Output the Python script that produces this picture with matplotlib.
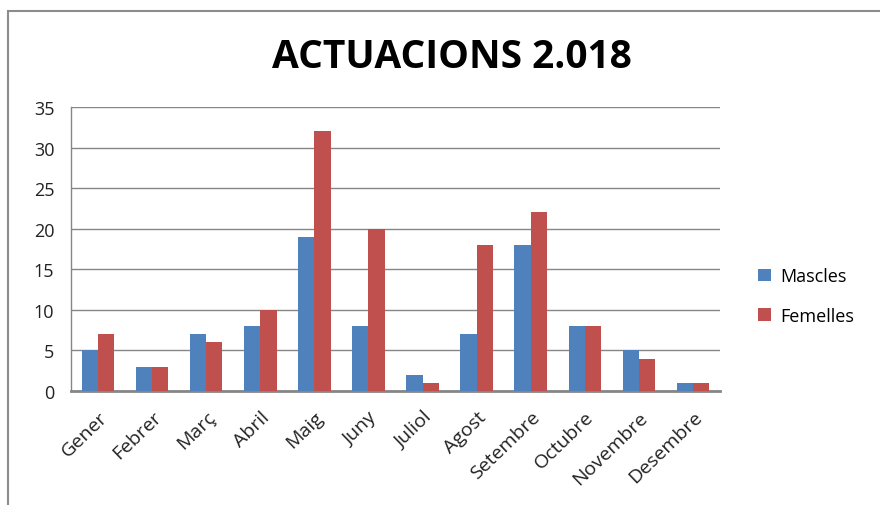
import matplotlib
matplotlib.use("Agg")
import matplotlib.pyplot as plt
from matplotlib.patches import Rectangle
from matplotlib import font_manager
import numpy as np

months = ["Gener", "Febrer", "Març", "Abril", "Maig", "Juny", "Juliol",
          "Agost", "Setembre", "Octubre", "Novembre", "Desembre"]
mascles = [5, 3, 7, 8, 19, 8, 2, 7, 18, 8, 5, 1]
femelles = [7, 3, 6, 10, 32, 20, 1, 18, 22, 8, 4, 1]
yticks = [0, 5, 10, 15, 20, 25, 30, 35]

names = {f.name for f in font_manager.fontManager.ttflist}
narrow = "Liberation Sans Narrow" if "Liberation Sans Narrow" in names else "Open Sans"
plt.rcParams['font.family'] = ["Open Sans", "DejaVu Sans"]

W, H = 880, 506
fig = plt.figure(figsize=(W / 100, H / 100), dpi=100)
fig.patch.set_facecolor("white")

# outer chart border
fig.add_artist(Rectangle((8 / W, -0.1), 1.2, 1.1 - 12 / H, transform=fig.transFigure,
                         fill=False, edgecolor="#8c8c8c", linewidth=1.5))

ax = fig.add_axes([71 / W, 1 - 392 / H, (720 - 71) / W, (392 - 108) / H])
x = np.arange(len(months))
bw = 0.3
ax.bar(x - bw / 2, mascles, bw, color="#4F81BD", label="Mascles", zorder=3)
ax.bar(x + bw / 2, femelles, bw, color="#C0504D", label="Femelles", zorder=3)

ax.set_xlim(-0.5, len(months) - 0.5)
ax.set_ylim(0, 35)
ax.set_yticks(yticks)
ax.set_yticklabels([str(v) for v in yticks], fontsize=13, color="#222222")
ax.yaxis.grid(True, color="#868686", linewidth=1.0, zorder=0)
ax.tick_params(axis="y", length=0, pad=12)
ax.tick_params(axis="x", length=0, pad=12)
ax.set_xticks(x)
ax.set_xticklabels(months, rotation=44, ha="right", rotation_mode="anchor",
                   fontsize=14, color="#222222")
for s in ["top", "right"]:
    ax.spines[s].set_visible(False)
ax.spines["left"].set_color("#868686")
ax.spines["bottom"].set_color("#868686")
ax.spines["bottom"].set_linewidth(2)
ax.spines["left"].set_linewidth(1)

fig.text(452 / W, 1 - 57 / H, "ACTUACIONS 2.018", ha="center", va="center",
         fontsize=28, fontweight="bold", family=[narrow, "DejaVu Sans"], color="#000000")

fig.legend(loc="center left", bbox_to_anchor=(742 / W, 1 - 297 / H), frameon=False,
           fontsize=13, handlelength=0.7, handleheight=0.7, handletextpad=0.5,
           labelspacing=1.2)

fig.savefig("out.png", dpi=100, facecolor="white")
